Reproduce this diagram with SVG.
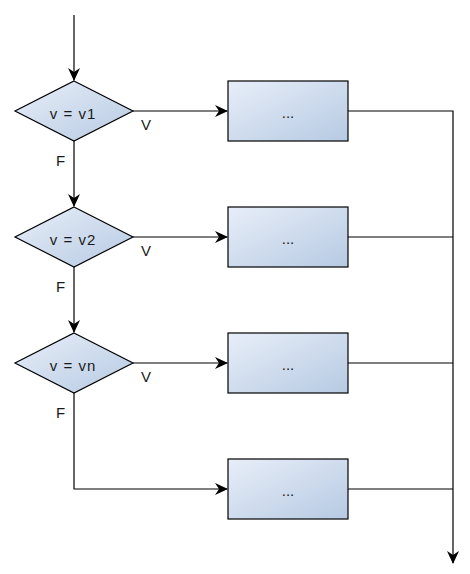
<svg xmlns="http://www.w3.org/2000/svg" width="470" height="574" viewBox="0 0 470 574">
<style>
.n{stroke:#000;stroke-width:1.2;fill:url(#g)}
.e{fill:none;stroke:#000;stroke-width:1.2}
.t{font-family:"Liberation Sans",Arial,sans-serif;font-size:15px;fill:#1a1a1a}
.c{text-anchor:middle}
.d{letter-spacing:1px}
</style>
<defs>
<linearGradient id="g" x1="0" y1="0" x2="1" y2="1">
<stop offset="0" stop-color="#e8eef8"/>
<stop offset="1" stop-color="#b6cae3"/>
</linearGradient>
<marker id="a" viewBox="0 0 13 12" refX="12" refY="6" markerWidth="13" markerHeight="12" markerUnits="userSpaceOnUse" orient="auto">
<path d="M0,0 L13,6 L0,12 L4,6 Z" fill="#000"/>
</marker>
</defs>
<g id="connectors">
<path class="e" d="M74,15 V80" marker-end="url(#a)"/>
<path class="e" d="M74,141 V206" marker-end="url(#a)"/>
<path class="e" d="M74,267 V332" marker-end="url(#a)"/>
<path class="e" d="M133,111 H227" marker-end="url(#a)"/>
<path class="e" d="M133,237 H227" marker-end="url(#a)"/>
<path class="e" d="M133,363 H227" marker-end="url(#a)"/>
<path class="e" d="M74,393 V489 H227" marker-end="url(#a)"/>
<path class="e" d="M348,111 H453 V563" marker-end="url(#a)"/>
<path class="e" d="M348,237 H453"/>
<path class="e" d="M348,363 H453"/>
<path class="e" d="M348,489 H453"/>
<text class="t" x="141" y="130">V</text>
<text class="t" x="141" y="256">V</text>
<text class="t" x="141" y="382">V</text>
<text class="t" x="56" y="166">F</text>
<text class="t" x="56" y="292">F</text>
<text class="t" x="56" y="418">F</text>
</g>
<g id="d1"><path class="n" d="M74,81 L133,111 L74,141 L15,111 Z"/><text class="t c d" x="73" y="119">v = v1</text></g>
<g id="d2"><path class="n" d="M74,207 L133,237 L74,267 L15,237 Z"/><text class="t c d" x="73" y="245">v = v2</text></g>
<g id="d3"><path class="n" d="M74,333 L133,363 L74,393 L15,363 Z"/><text class="t c d" x="73" y="371">v = vn</text></g>
<g id="b1"><rect class="n" x="228" y="81" width="120" height="60"/><text class="t c" x="288" y="118">...</text></g>
<g id="b2"><rect class="n" x="228" y="207" width="120" height="60"/><text class="t c" x="288" y="244">...</text></g>
<g id="b3"><rect class="n" x="228" y="333" width="120" height="60"/><text class="t c" x="288" y="370">...</text></g>
<g id="b4"><rect class="n" x="228" y="459" width="120" height="60"/><text class="t c" x="288" y="496">...</text></g>
</svg>
